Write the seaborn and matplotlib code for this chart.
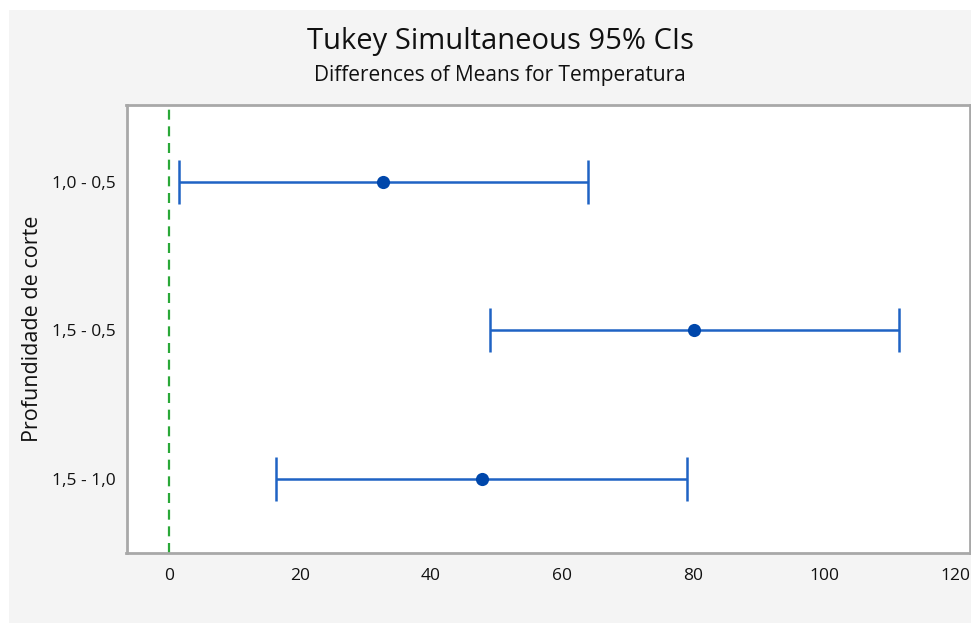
import matplotlib
matplotlib.use("Agg")
import matplotlib.pyplot as plt
import seaborn as sns
import pandas as pd
from matplotlib.patches import Rectangle

comparisons = ["1,0 - 0,5", "1,5 - 0,5", "1,5 - 1,0"]
centers = [32.7, 80.2, 47.8]
lowers = [1.5, 49.0, 16.3]
uppers = [64.0, 111.5, 79.0]
xticks = [0, 20, 40, 60, 80, 100, 120]

df = pd.DataFrame({"comp": comparisons, "center": centers, "lower": lowers, "upper": uppers})

sns.set_theme(style="white")
plt.rcParams["font.family"] = ["Open Sans", "DejaVu Sans"]

fig = plt.figure(figsize=(9.71, 6.23), dpi=100)
fig.patch.set_facecolor("white")
fig.patches.append(Rectangle((9/971, 0), 1 - 9/971, 1 - 10/623, transform=fig.transFigure,
                             facecolor="#f4f4f4", edgecolor="none", zorder=-10))
ax = fig.add_axes([126.5/971, 70/623, 843/971, 448/623])
ax.set_facecolor("white")

ax.axvline(0, color="#2aa838", linestyle=(0, (4.5, 3)), linewidth=1.6, zorder=1)

ypos = list(range(len(comparisons)))
ax.errorbar(df["center"], ypos,
            xerr=[df["center"] - df["lower"], df["upper"] - df["center"]],
            fmt="none", ecolor="#1f63c4", elinewidth=1.8, capsize=16, capthick=1.8, zorder=2)
sns.scatterplot(x=df["center"], y=ypos, ax=ax, color="#0047ab", s=90, edgecolor="#0047ab",
                linewidth=0, zorder=3, legend=False)

ax.set_xlim(-6.5, 122.2)
ax.set_ylim(2.495, -0.515)
ax.set_xticks(xticks)
ax.set_xticklabels([str(v) for v in xticks])
ax.set_yticks(ypos)
ax.set_yticklabels(comparisons)
ax.tick_params(axis="both", which="both", direction="out", length=5, width=1.2,
               color="#a8a8a8", labelsize=12.5, labelcolor="#111111", pad=3)
ax.tick_params(axis="x", pad=6)
for s in ax.spines.values():
    s.set_color("#a8a8a8")
    s.set_linewidth(2)
ax.set_xlabel("")
ax.set_ylabel("Profundidade de corte", fontsize=15.5, color="#111111", labelpad=6)

fig.text(500/971, 1 - 42/623, "Tukey Simultaneous 95% CIs", ha="center", va="center",
         fontsize=21, color="#111111")
fig.text(500/971, 1 - 75/623, "Differences of Means for Temperatura", ha="center", va="center",
         fontsize=15, color="#111111")

fig.savefig("out.png", dpi=100)
